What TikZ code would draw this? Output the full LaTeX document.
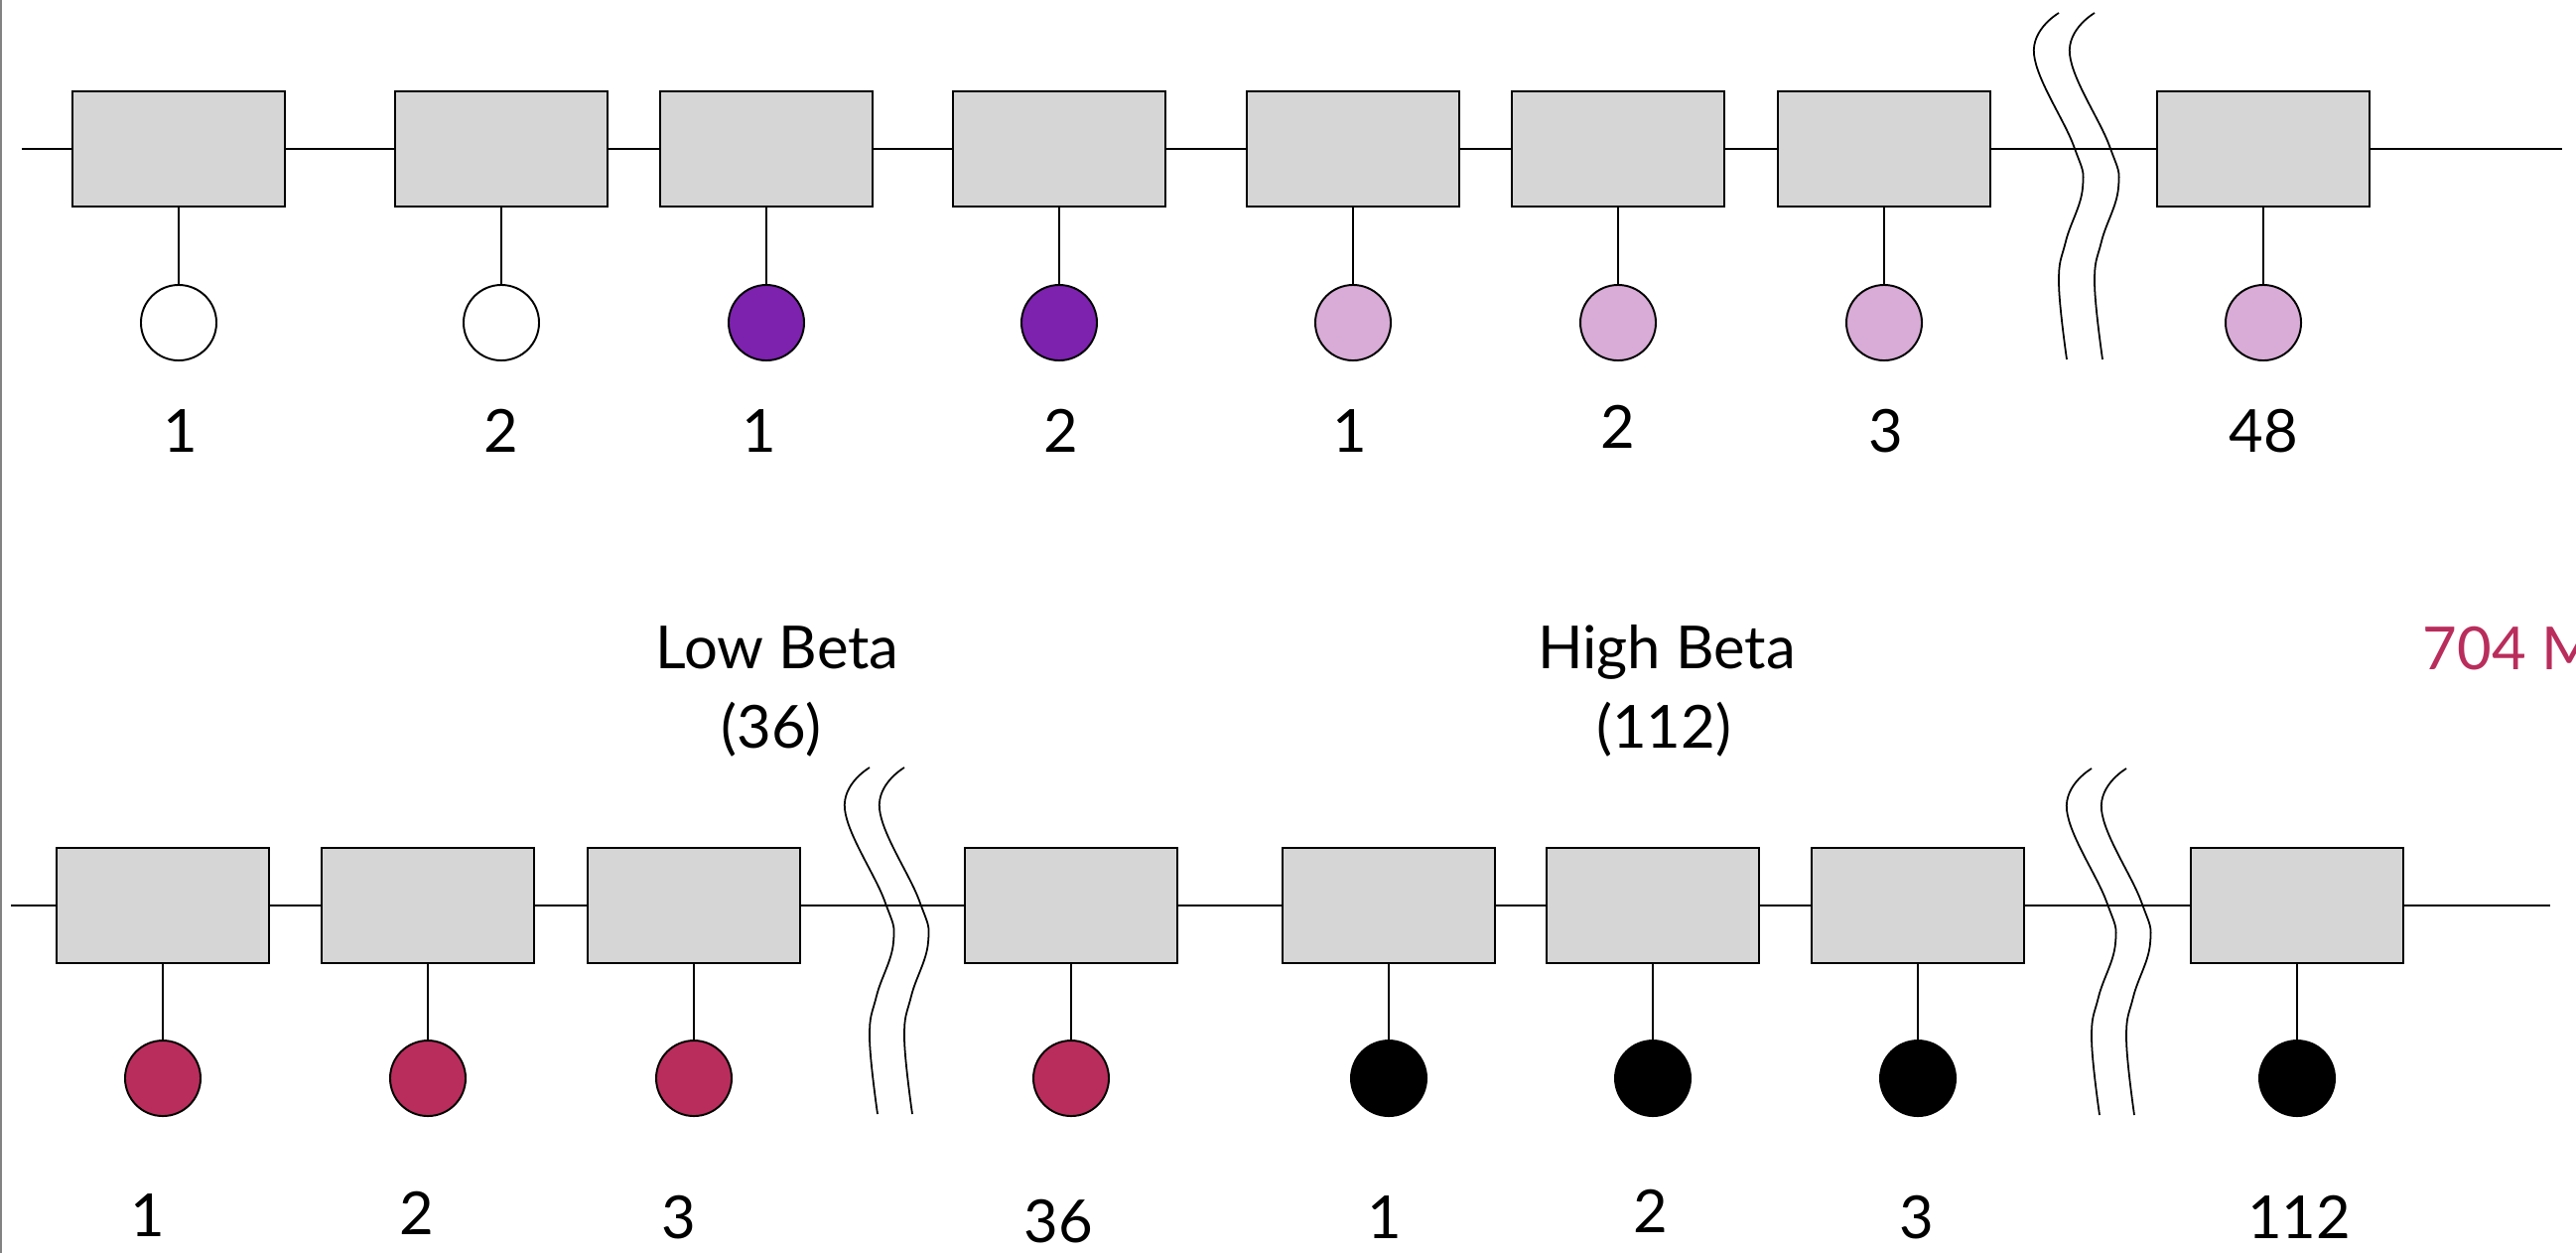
\documentclass[tikz,border=0pt]{standalone}
\usepackage{fontspec}
\setmainfont{Lato}
\definecolor{boxgray}{RGB}{214,214,214}
\definecolor{dpurple}{RGB}{124,34,175}
\definecolor{lpink}{RGB}{216,172,214}
\definecolor{magenta}{RGB}{185,45,92}
\definecolor{edgegray}{RGB}{130,130,130}
\begin{document}
\begin{tikzpicture}[x=0.01cm,y=-0.01cm,
  gene/.style={draw, line width=0.75pt, fill=boxgray, minimum width=2.14cm, minimum height=1.16cm, inner sep=0pt},
  dot/.style={circle, draw, line width=0.55pt, minimum size=0.76cm, inner sep=0pt},
  num/.style={font=\fontsize{17}{20}\selectfont, anchor=base, inner sep=0pt},
  wire/.style={line width=0.5pt},
  brk/.style={line width=0.5pt}]
\useasboundingbox (0,0) rectangle (2595,1262);
\draw[edgegray, line width=0.55pt] (1,0) -- (1,1262);

% cut-off labels at top
\node[num] (toplabA) at (815,-14) {(\phantom{0})};
\node[num] (toplabB) at (1712,-14) {(\phantom{00})};

% ---------- top row ----------
\coordinate (tstart) at (22,150);
\coordinate (tend) at (2581,150);
\foreach \i/\x/\col/\lx/\ly/\lab in {1/180/white/182/455/1, 2/505/white/505/455/2, 3/772/dpurple/765/455/1, 4/1067/dpurple/1069/455/2, 5/1363/lpink/1360/455/1, 6/1630/lpink/1630/451/2, 7/1898/lpink/1900/455/3, 8/2280/lpink/2280/455/48}{
  \node[gene] (t\i) at (\x,150) {};
  \node[dot, fill=\col] (tc\i) at (\x,325) {};
  \draw[wire] (t\i.south) -- (tc\i.north);
  \node[num] (tl\i) at (\lx,\ly) {\lab};
}
\draw[wire] (tstart) -- (t1.west) (t1.east) -- (t2.west) (t2.east) -- (t3.west)
  (t3.east) -- (t4.west) (t4.east) -- (t5.west) (t5.east) -- (t6.west)
  (t6.east) -- (t7.west) (t7.east) -- (t8.west) (t8.east) -- (tend);

% ---------- bottom row ----------
\coordinate (bstart) at (11,912);
\coordinate (bend) at (2569,912);
\foreach \i/\x/\col/\lx/\ly/\lab in {1/164/magenta/149/1245/1, 2/431/magenta/420/1243/2, 3/699/magenta/684/1247/3, 4/1079/magenta/1066/1251/36, 5/1399/black/1395/1247/1, 6/1665/black/1663/1241/2, 7/1932/black/1931/1247/3, 8/2314/black/2316/1247/112}{
  \node[gene] (b\i) at (\x,912) {};
  \node[dot, fill=\col] (bc\i) at (\x,1086) {};
  \draw[wire] (b\i.south) -- (bc\i.north);
  \node[num] (bl\i) at (\lx,\ly) {\lab};
}
\draw[wire] (bstart) -- (b1.west) (b1.east) -- (b2.west) (b2.east) -- (b3.west)
  (b3.east) -- (b4.west) (b4.east) -- (b5.west) (b5.east) -- (b6.west)
  (b6.east) -- (b7.west) (b7.east) -- (b8.west) (b8.east) -- (bend);

% ---------- break marks ----------
\foreach \bx/\by in {2074/13, 2110/13, 876/773, 911/773, 2107/774, 2142/774}{
  \draw[brk] plot[smooth, tension=0.7] coordinates {(\bx,\by) (\bx-25,\by+42) (\bx+15,\by+134) (\bx+24,\by+176) (\bx+7,\by+230) (\bx,\by+272) (\bx+8,\by+349)};
}

% ---------- titles ----------
\node[num] (lowbeta) at (783,673) {Low Beta};
\node[num] (lowbetan) at (777,753) {(36)};
\node[num] (highbeta) at (1679,673) {High Beta};
\node[num] (highbetan) at (1676,753) {(112)};
\node[num, anchor=base west, text=magenta] (total) at (2440,674) {704 M};
\end{tikzpicture}
\end{document}
